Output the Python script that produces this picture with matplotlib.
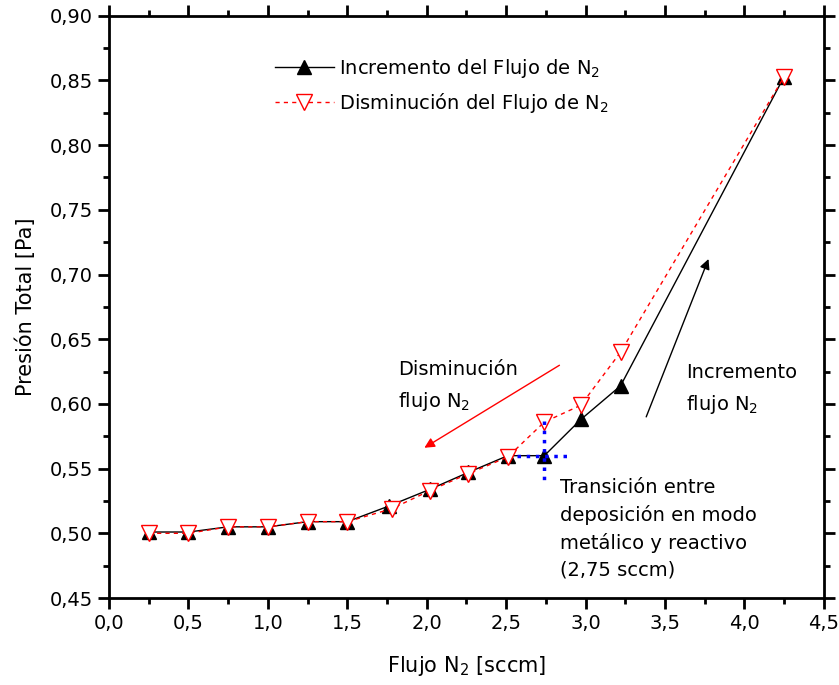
import numpy as np
import matplotlib
matplotlib.use('Agg')
import matplotlib.pyplot as plt
from matplotlib.ticker import MultipleLocator, FuncFormatter

plt.rcParams['font.family'] = ['DejaVu Sans']
plt.rcParams['mathtext.default'] = 'regular'

# flujo de N2 (sccm) y presion total (Pa)
flujo_inc = [0.25, 0.50, 0.75, 1.00, 1.25, 1.50, 1.76, 2.02, 2.26, 2.51, 2.74, 2.97, 3.22, 4.25]
presion_inc = [0.501, 0.501, 0.505, 0.505, 0.509, 0.509, 0.521, 0.534, 0.547, 0.560, 0.560, 0.588, 0.614, 0.853]

flujo_dis = [0.25, 0.50, 0.75, 1.00, 1.25, 1.50, 1.78, 2.02, 2.26, 2.51, 2.74, 2.97, 3.22, 4.25]
presion_dis = [0.500, 0.500, 0.505, 0.505, 0.509, 0.509, 0.519, 0.533, 0.546, 0.559, 0.586, 0.599, 0.640, 0.853]

x_trans = 2.74
y_trans = 0.560

fig = plt.figure(figsize=(8.39, 6.85), dpi=100)
ax = fig.add_axes([0.130, 0.127, 0.852, 0.850])

ax.plot(flujo_inc, presion_inc, color='black', lw=1, marker='^', ms=10,
        mfc='black', mec='black', label='Incremento del Flujo de N$_2$', zorder=3)
ax.plot(flujo_dis, presion_dis, color='red', lw=1, ls=(0, (3, 3)), marker='v', ms=12,
        mfc='white', mec='red', label='Disminución del Flujo de N$_2$', zorder=4)

# marca de transicion
ax.plot([2.57, 2.88], [y_trans, y_trans], color='blue', ls=':', lw=2.5, zorder=5)
ax.plot([x_trans, x_trans], [0.587, 0.538], color='blue', ls=':', lw=2.5, zorder=5)

# flechas
ax.annotate('', xy=(1.97, 0.565), xytext=(2.85, 0.631),
            arrowprops=dict(arrowstyle='-|>', color='red', lw=1, mutation_scale=15))
ax.annotate('', xy=(3.78, 0.714), xytext=(3.375, 0.588),
            arrowprops=dict(arrowstyle='-|>', color='black', lw=1, mutation_scale=15))

ax.text(1.82, 0.634, 'Disminución\nflujo N$_2$', fontsize=14, va='top', ha='left', linespacing=1.65)
ax.text(3.63, 0.632, 'Incremento\nflujo N$_2$', fontsize=14, va='top', ha='left', linespacing=1.65)
ax.text(2.84, 0.543, 'Transición entre\ndeposición en modo\nmetálico y reactivo\n(2,75 sccm)',
        fontsize=14, va='top', ha='left', linespacing=1.5)

ax.set_xlim(0, 4.5)
ax.set_ylim(0.45, 0.90)
ax.xaxis.set_major_locator(MultipleLocator(0.5))
ax.xaxis.set_minor_locator(MultipleLocator(0.25))
ax.yaxis.set_major_locator(MultipleLocator(0.05))
ax.yaxis.set_minor_locator(MultipleLocator(0.025))
ax.xaxis.set_major_formatter(FuncFormatter(lambda v, p: f'{v:.1f}'.replace('.', ',')))
ax.yaxis.set_major_formatter(FuncFormatter(lambda v, p: f'{v:.2f}'.replace('.', ',')))

ax.tick_params(which='both', direction='out', top=True, right=True, width=2, labelsize=14)
ax.tick_params(which='major', length=8)
ax.tick_params(which='minor', length=4)
for s in ax.spines.values():
    s.set_linewidth(2)

ax.set_xlabel('Flujo N$_2$ [sccm]', fontsize=15, labelpad=15)
ax.set_ylabel('Presión Total [Pa]', fontsize=15, labelpad=10)

ax.legend(loc='upper left', bbox_to_anchor=(0.208, 0.96), frameon=False, fontsize=14,
          handlelength=3, labelspacing=0.6, handletextpad=0.3)

fig.savefig('out.png', dpi=100)
